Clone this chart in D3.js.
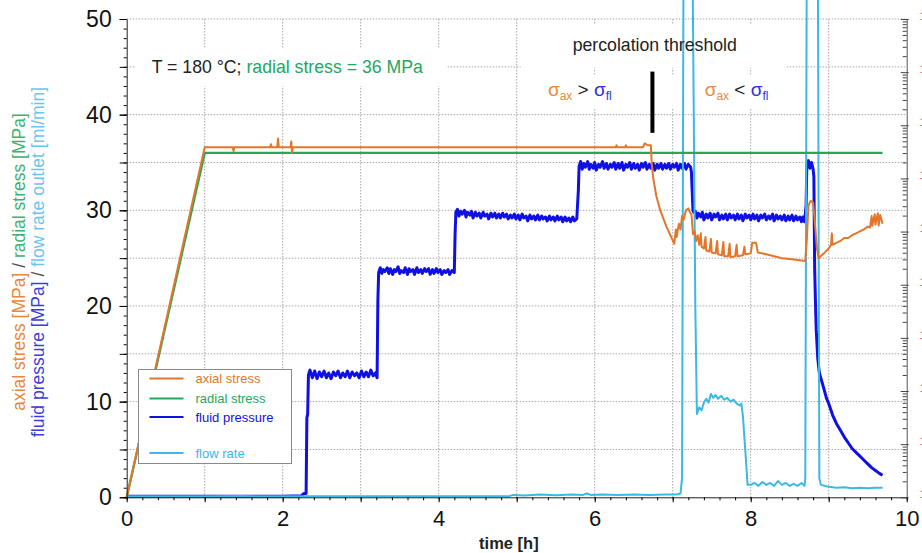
<!DOCTYPE html>
<html>
<head>
<meta charset="utf-8">
<script src="https://cdn.jsdelivr.net/npm/d3@7"></script>
<style>
  body { margin: 0; background: #fff; }
  svg { display: block; font-family: "Liberation Sans", Arial, sans-serif; }
</style>
</head>
<body>
<div id="graf"></div>
<script>
// Datos: [tiempo h, valor]
const radialStress = [[0, 0], [1.0, 36], [9.69, 36]]

const axialStress = [
  [0, 0], [1.0, 36.6], [1.36, 36.6], [1.37, 36.2], [1.38, 36.6], [1.84, 36.6], [1.85, 36.9], [1.86, 36.6],
  [1.93, 36.6], [1.94, 37.5], [1.95, 36.6], [2.10, 36.6], [2.11, 37.2], [2.12, 36.0], [2.13, 36.6],
  [6.27, 36.6], [6.28, 36.8], [6.29, 36.6], [6.39, 36.6], [6.40, 36.8], [6.41, 36.6], [6.62, 36.6],
  [6.64, 37.0], [6.68, 36.8], [6.72, 36.8], [6.73, 35.0], [6.75, 33.4], [6.79, 31.5], [6.84, 30.0],
  [6.92, 28.3], [7.02, 26.5], [7.04, 28.0], [7.05, 27.2], [7.08, 28.6], [7.10, 28.0], [7.12, 29.4],
  [7.14, 29.0], [7.17, 30.0], [7.20, 30.2], [7.22, 29.8], [7.24, 29.6], [7.26, 27.5], [7.28, 27.8],
  [7.30, 26.8], [7.32, 27.4], [7.34, 26.4], [7.36, 27.6], [7.37, 26.2], [7.40, 26.0], [7.42, 27.2],
  [7.43, 25.8], [7.47, 25.7], [7.49, 27.0], [7.50, 25.6], [7.55, 25.5], [7.57, 26.8], [7.58, 25.4],
  [7.63, 25.3], [7.65, 26.7], [7.66, 25.2], [7.71, 25.2], [7.73, 26.5], [7.74, 25.1], [7.80, 25.2],
  [7.82, 26.4], [7.83, 25.2], [7.90, 25.3], [7.92, 26.2], [7.93, 25.4], [8.00, 25.5], [8.02, 26.6],
  [8.07, 26.6], [8.09, 25.6], [8.20, 25.4], [8.30, 25.2], [8.40, 25.0], [8.50, 24.9], [8.60, 24.8],
  [8.70, 24.7], [8.72, 27.0], [8.74, 30.5], [8.77, 31.0], [8.80, 30.8], [8.82, 29.0], [8.85, 26.0],
  [8.87, 25.0], [8.95, 25.6], [9.00, 26.0], [9.03, 26.4], [9.04, 27.6], [9.05, 26.4], [9.10, 26.6],
  [9.15, 26.8], [9.20, 27.1], [9.25, 27.1], [9.30, 27.4], [9.35, 27.6], [9.40, 27.8], [9.45, 28.0],
  [9.50, 28.3], [9.53, 28.2], [9.55, 29.4], [9.56, 28.4], [9.59, 29.6], [9.60, 28.5], [9.63, 29.7],
  [9.64, 28.4], [9.66, 29.5], [9.69, 28.6]
]

const fluidPressure = [
  [0, 0.1], [2.0, 0.1], [2.24, 0.15], [2.27, 0.4], [2.30, 0.4], [2.31, 8.3], [2.32, 8.7], [2.33, 12.8],
  [2.35, 13.3], [2.38, 12.5], [2.41, 13.2], [2.44, 12.4], [2.47, 13.1], [2.50, 12.6], [2.53, 13.2],
  [2.56, 12.5], [2.59, 13.0], [2.62, 12.4], [2.65, 13.1], [2.68, 12.7], [2.71, 13.2], [2.74, 12.5],
  [2.77, 13.0], [2.80, 12.6], [2.83, 13.2], [2.86, 12.5], [2.89, 13.1], [2.92, 12.7], [2.95, 13.0],
  [2.98, 12.5], [3.01, 13.2], [3.04, 12.6], [3.07, 13.1], [3.10, 12.6], [3.13, 13.3], [3.16, 12.7],
  [3.19, 13.0], [3.21, 12.5], [3.22, 20.5], [3.23, 23.5],
  [3.25, 24.0], [3.27, 23.4], [3.29, 23.8], [3.31, 23.6], [3.34, 24.0], [3.36, 23.4], [3.38, 23.9],
  [3.41, 23.3], [3.43, 23.8], [3.45, 23.6], [3.48, 24.1], [3.50, 23.4], [3.52, 23.7], [3.55, 23.5],
  [3.57, 24.0], [3.60, 23.3], [3.62, 23.9], [3.64, 23.6], [3.67, 23.8], [3.69, 23.3], [3.72, 24.0],
  [3.74, 23.5], [3.77, 23.8], [3.79, 23.4], [3.82, 23.9], [3.84, 23.6], [3.87, 23.9], [3.89, 23.3],
  [3.92, 23.8], [3.94, 23.4], [3.97, 23.9], [3.99, 23.5], [4.02, 23.8], [4.04, 23.3], [4.07, 23.7],
  [4.09, 23.5], [4.12, 23.8], [4.14, 23.3], [4.17, 23.7], [4.20, 23.5], [4.21, 27.5], [4.22, 29.8],
  [4.24, 30.1], [4.26, 29.4], [4.28, 29.9], [4.30, 29.6], [4.33, 30.0], [4.35, 29.3], [4.37, 29.8],
  [4.40, 29.5], [4.42, 29.9], [4.44, 29.2], [4.47, 29.8], [4.49, 29.4], [4.52, 29.7], [4.54, 29.2],
  [4.57, 29.8], [4.59, 29.4], [4.62, 29.6], [4.64, 29.1], [4.67, 29.7], [4.69, 29.3], [4.72, 29.7],
  [4.74, 29.2], [4.77, 29.6], [4.79, 29.2], [4.82, 29.7], [4.84, 29.3], [4.87, 29.6], [4.89, 29.1],
  [4.92, 29.5], [4.94, 29.2], [4.97, 29.6], [4.99, 29.1], [5.02, 29.5], [5.04, 29.0], [5.07, 29.6],
  [5.09, 29.2], [5.12, 29.4], [5.14, 28.9], [5.17, 29.5], [5.19, 29.1], [5.22, 29.4], [5.24, 29.0],
  [5.27, 29.5], [5.29, 29.0], [5.32, 29.4], [5.34, 29.1], [5.37, 29.3], [5.39, 28.9], [5.42, 29.4],
  [5.44, 29.0], [5.47, 29.3], [5.49, 28.9], [5.52, 29.4], [5.54, 29.0], [5.57, 29.3], [5.59, 28.8],
  [5.62, 29.3], [5.64, 28.9], [5.67, 29.2], [5.69, 28.8], [5.72, 29.3], [5.74, 28.9], [5.77, 29.1],
  [5.79, 32.0], [5.80, 34.6],
  [5.82, 35.1], [5.84, 34.3], [5.86, 34.9], [5.88, 34.5], [5.91, 35.1], [5.93, 34.3], [5.95, 34.8],
  [5.98, 34.4], [6.00, 35.0], [6.02, 34.2], [6.05, 34.8], [6.07, 34.5], [6.10, 35.1], [6.12, 34.4],
  [6.15, 34.9], [6.17, 34.3], [6.20, 34.8], [6.22, 34.5], [6.25, 35.0], [6.27, 34.3], [6.30, 34.9],
  [6.32, 34.4], [6.35, 35.0], [6.37, 34.2], [6.40, 34.8], [6.42, 34.5], [6.45, 35.0], [6.47, 34.3],
  [6.50, 34.9], [6.52, 34.4], [6.55, 34.8], [6.57, 34.2], [6.60, 34.9], [6.62, 34.5], [6.65, 35.0],
  [6.67, 34.3], [6.70, 34.8], [6.72, 34.4], [6.75, 34.9], [6.77, 34.2], [6.80, 34.8], [6.82, 34.4],
  [6.85, 34.9], [6.87, 34.3], [6.90, 34.8], [6.92, 34.4], [6.95, 34.9], [6.97, 34.3], [7.00, 34.8],
  [7.02, 34.5], [7.05, 34.9], [7.07, 34.2], [7.10, 34.8], [7.12, 34.4], [7.15, 34.9], [7.17, 34.3],
  [7.20, 34.8], [7.23, 34.5], [7.24, 34.0], [7.26, 30.0], [7.27, 29.8],
  [7.29, 29.9], [7.31, 29.2], [7.33, 29.7], [7.36, 29.3], [7.38, 29.8], [7.40, 29.0], [7.43, 29.6],
  [7.45, 29.2], [7.48, 29.7], [7.50, 29.0], [7.53, 29.6], [7.55, 29.3], [7.58, 29.7], [7.60, 29.0],
  [7.63, 29.5], [7.65, 29.1], [7.68, 29.6], [7.70, 29.0], [7.73, 29.6], [7.75, 29.2], [7.78, 29.5],
  [7.80, 29.0], [7.83, 29.6], [7.85, 29.1], [7.88, 29.5], [7.90, 28.9], [7.93, 29.6], [7.95, 29.2],
  [7.98, 29.5], [8.00, 29.0], [8.03, 29.6], [8.05, 29.1], [8.08, 29.5], [8.10, 28.9], [8.13, 29.5],
  [8.15, 29.2], [8.18, 29.6], [8.20, 29.0], [8.23, 29.4], [8.25, 29.1], [8.28, 29.6], [8.30, 28.9],
  [8.33, 29.5], [8.35, 29.1], [8.38, 29.4], [8.40, 29.0], [8.43, 29.5], [8.45, 28.9], [8.48, 29.4],
  [8.50, 29.0], [8.53, 29.5], [8.55, 28.9], [8.58, 29.4], [8.60, 29.0], [8.63, 29.3], [8.65, 28.8],
  [8.67, 29.3], [8.69, 28.8],
  [8.71, 30.5], [8.72, 34.8], [8.74, 35.2], [8.76, 34.4], [8.78, 35.0], [8.80, 34.3], [8.81, 33.5],
  [8.82, 24.0], [8.83, 20.5], [8.84, 17.5], [8.86, 14.5], [8.88, 13.0], [8.93, 11.6], [8.97, 10.4],
  [9.00, 9.8], [9.05, 8.6], [9.10, 7.7], [9.15, 7.0], [9.20, 6.3], [9.25, 5.7], [9.30, 5.1],
  [9.35, 4.7], [9.40, 4.3], [9.45, 3.9], [9.50, 3.5], [9.55, 3.1], [9.60, 2.8], [9.65, 2.5], [9.69, 2.3]
]

const flowRate = [
  [0, 0.1], [0.5, 0.12], [1.0, 0.1], [1.5, 0.13], [2.0, 0.1], [2.5, 0.12], [3.0, 0.1], [3.5, 0.12],
  [4.0, 0.1], [4.5, 0.12], [4.9, 0.1], [4.95, 0.25], [5.1, 0.2], [5.3, 0.28], [5.5, 0.22], [5.7, 0.3],
  [5.85, 0.25], [5.9, 0.4], [5.95, 0.25], [6.1, 0.3], [6.3, 0.25], [6.5, 0.3], [6.7, 0.25], [6.9, 0.3],
  [7.05, 0.3], [7.10, 0.4], [7.12, 2], [7.14, 60], [7.25, 60], [7.29, 20], [7.31, 8.7], [7.34, 9.4],
  [7.37, 9.1], [7.40, 9.9], [7.43, 10.3], [7.46, 9.9], [7.49, 10.8], [7.52, 10.4], [7.55, 10.7],
  [7.58, 10.3], [7.62, 10.6], [7.66, 10.2], [7.70, 10.4], [7.74, 10.0], [7.78, 10.2], [7.82, 9.8],
  [7.86, 9.6], [7.88, 9.8], [7.90, 8.5], [7.93, 5.0], [7.96, 1.3], [8.0, 1.3], [8.05, 1.5], [8.1, 1.2],
  [8.15, 1.6], [8.2, 1.3], [8.25, 1.5], [8.3, 1.2], [8.35, 1.7], [8.4, 1.3], [8.45, 1.5], [8.5, 1.2],
  [8.55, 1.4], [8.6, 1.2], [8.65, 1.5], [8.69, 1.2], [8.70, 2], [8.72, 60], [8.86, 60], [8.88, 2],
  [8.90, 1.3], [9.0, 1.1], [9.1, 1.0], [9.2, 1.05], [9.3, 0.95], [9.4, 1.0], [9.5, 0.95], [9.6, 1.0],
  [9.69, 1.0]
]

// Etiquetas de ejes
const xTickLabels = [0, 2, 4, 6, 8, 10]
const yTickLabels = [0, 10, 20, 30, 40, 50]
const legendLabels = ['axial stress', 'radial stress', 'fluid pressure', '', 'flow rate']

// Colores
const cAxial = '#e2772b'
const cRadial = '#22a95c'
const cFluid = '#1010e4'
const cFlow = '#3cb8e4'

const width = 922
const height = 553

const svg = d3.select('#graf')
  .append('svg')
  .attr('width', width)
  .attr('height', height)

svg.append('rect').attr('width', width).attr('height', height).attr('fill', 'white')

// Escaladores
const x = d3.scaleLinear().domain([0, 10]).range([126.7, 906.7])
const y = d3.scaleLinear().domain([0, 50]).range([497.3, 19])
const yRight = d3.scaleLog().domain([1e-4, 1e5]).range([497.3, 19])

// Rejilla punteada
const grid = svg.append('g')
grid.selectAll('.gx')
  .data(x.ticks(10).filter(d => d > 0 && d < 10))
  .enter().append('line')
  .attr('x1', d => x(d)).attr('x2', d => x(d))
  .attr('y1', y(50)).attr('y2', y(0))
grid.selectAll('.gy')
  .data(y.ticks(10).filter(d => d > 0))
  .enter().append('line')
  .attr('x1', x(0)).attr('x2', x(10))
  .attr('y1', d => y(d)).attr('y2', d => y(d))
grid.selectAll('line')
  .attr('stroke', '#a8a8a8')
  .attr('stroke-width', 1)
  .attr('stroke-dasharray', '1.5,1.5')

// Fondos blancos de anotaciones
svg.append('rect')
  .attr('x', x(0.11)).attr('y', y(47.0))
  .attr('width', x(4.1) - x(0.11)).attr('height', y(43.0) - y(47.0))
  .attr('fill', 'white')
svg.append('rect')
  .attr('x', x(5.05)).attr('y', y(49.4))
  .attr('width', x(8.46) - x(5.05)).attr('height', y(44.9) - y(49.4))
  .attr('fill', 'white')
svg.append('rect')
  .attr('x', x(5.2)).attr('y', y(44.2))
  .attr('width', x(8.46) - x(5.2)).attr('height', y(40.6) - y(44.2))
  .attr('fill', 'white')

// Lineas
const line = d3.line().x(d => x(d[0])).y(d => y(d[1]))
const series = [
  { data: fluidPressure, color: cFluid, w: 3 },
  { data: flowRate, color: cFlow, w: 2 },
  { data: radialStress, color: cRadial, w: 2.4 },
  { data: axialStress, color: cAxial, w: 2 }
]
svg.selectAll('.serie')
  .data(series)
  .enter().append('path')
  .attr('class', 'serie')
  .attr('fill', 'none')
  .attr('stroke', d => d.color)
  .attr('stroke-width', d => d.w)
  .attr('stroke-linejoin', 'round')
  .attr('d', d => line(d.data))

// Eje Y izquierdo
const yMinor = svg.append('g')
  .attr('transform', `translate(${x(0)},0)`)
  .call(d3.axisLeft(y).tickValues(y.ticks(50)).tickSize(3).tickSizeOuter(0).tickFormat(''))
yMinor.select('.domain').attr('stroke', '#222')
const yMajor = svg.append('g')
  .attr('transform', `translate(${x(0)},0)`)
  .call(d3.axisLeft(y).tickValues(y.ticks(10)).tickSize(7).tickSizeOuter(0).tickFormat(''))
yMajor.select('.domain').remove()
const yLabels = svg.append('g')
  .attr('transform', `translate(${x(0)},0)`)
  .call(d3.axisLeft(y).tickValues(yTickLabels).tickSize(7).tickPadding(8).tickSizeOuter(0))
yLabels.select('.domain').remove()
yLabels.selectAll('text').attr('font-size', 23).attr('fill', '#111')
  .attr('font-family', '"Liberation Sans", Arial, sans-serif')

// Eje X
const xMinor = svg.append('g')
  .attr('transform', `translate(0,${y(0)})`)
  .call(d3.axisBottom(x).tickValues(x.ticks(50)).tickSize(3).tickSizeOuter(0).tickFormat(''))
xMinor.select('.domain').attr('stroke', '#222')
const xLabels = svg.append('g')
  .attr('transform', `translate(0,${y(0)})`)
  .call(d3.axisBottom(x).tickValues(x.ticks(10)).tickSize(5).tickPadding(8).tickSizeOuter(0)
    .tickFormat(d => xTickLabels.includes(d) ? d : ''))
xLabels.select('.domain').remove()
xLabels.selectAll('text').attr('font-size', 22).attr('fill', '#111')
  .attr('font-family', '"Liberation Sans", Arial, sans-serif')

// Eje derecho logaritmico (recortado por el borde de la figura)
const rightTicks = yRight.ticks()
const isDecade = v => Math.abs(Math.log10(v) - Math.round(Math.log10(v))) < 1e-9
const yR = svg.append('g')
  .attr('transform', `translate(${x(10)},0)`)
  .call(d3.axisLeft(yRight).tickValues(rightTicks).tickSize(4).tickSizeOuter(0).tickFormat(''))
yR.select('.domain').attr('stroke', '#555')
yR.selectAll('.tick line')
  .attr('stroke', '#444')
  .attr('x1', d => isDecade(d) ? 2 : 0)
  .attr('x2', d => isDecade(d) ? -6 : -4)
svg.selectAll('.rlab')
  .data(rightTicks.filter(isDecade))
  .enter().append('text')
  .attr('x', x(10) + 13)
  .attr('y', d => yRight(d) - 3)
  .attr('dy', '0.35em')
  .attr('font-size', 11)
  .attr('fill', '#e83a3a')
  .text('1E')

// Titulo eje X
svg.append('text')
  .attr('x', x(4.9)).attr('y', 549)
  .attr('text-anchor', 'middle')
  .attr('font-size', 16.5).attr('font-weight', 'bold').attr('fill', '#222')
  .text('time [h]')

// Titulo eje Y (dos lineas)
const yt1 = svg.append('text')
  .attr('transform', 'translate(25,262) rotate(-90)')
  .attr('text-anchor', 'middle').attr('font-size', 17.5)
yt1.append('tspan').attr('fill', '#e8873c').text('axial stress [MPa]')
yt1.append('tspan').attr('fill', '#555').text(' / ')
yt1.append('tspan').attr('fill', '#3cb371').text('radial stress [MPa]')

const yt2 = svg.append('text')
  .attr('transform', 'translate(44,262) rotate(-90)')
  .attr('text-anchor', 'middle').attr('font-size', 17.5)
yt2.append('tspan').attr('fill', '#3c3cdc').text('fluid pressure [MPa]')
yt2.append('tspan').attr('fill', '#555').text(' / ')
yt2.append('tspan').attr('fill', '#6cc5ee').text('flow rate outlet [ml/min]')

// Anotaciones
const tLabel = svg.append('text')
  .attr('x', x(0.32)).attr('y', y(44.4))
  .attr('font-size', 17.7)
tLabel.append('tspan').attr('fill', '#222').text('T = 180 °C; ')
tLabel.append('tspan').attr('fill', '#22a85e').text('radial stress = 36 MPa')

svg.append('text')
  .attr('x', x(6.77)).attr('y', y(46.7))
  .attr('text-anchor', 'middle')
  .attr('font-size', 17.7).attr('fill', '#222')
  .text('percolation threshold')

svg.append('rect')
  .attr('x', x(6.74) - 2).attr('y', y(44.5))
  .attr('width', 4).attr('height', y(38.1) - y(44.5))
  .attr('fill', '#000')

const sigmaLabel = (t, sign) => {
  const txt = svg.append('text')
    .attr('x', x(t)).attr('y', y(42.0))
    .attr('font-size', 19)
  txt.append('tspan').attr('fill', '#e88a40').text('σ')
  txt.append('tspan').attr('fill', '#e88a40').attr('font-size', 12).attr('dy', 4).text('ax')
  txt.append('tspan').attr('fill', '#222').attr('dy', -4).text(` ${sign} `)
  txt.append('tspan').attr('fill', '#3030dd').text('σ')
  txt.append('tspan').attr('fill', '#3030dd').attr('font-size', 12).attr('dy', 4).text('fl')
}
sigmaLabel(5.4, '>')
sigmaLabel(7.41, '<')

// Leyenda
const legend = svg.append('g').attr('transform', 'translate(138.5,369.5)')
legend.append('rect')
  .attr('width', 153).attr('height', 94)
  .attr('fill', 'white').attr('stroke', '#8a8a8a')
const legendColors = [cAxial, cRadial, cFluid, null, cFlow]
const legendRows = [9, 29, 47.5, 65, 83.5]
legendLabels.forEach((lab, i) => {
  if (!lab) return
  legend.append('line')
    .attr('x1', 11).attr('x2', 45)
    .attr('y1', legendRows[i]).attr('y2', legendRows[i])
    .attr('stroke', legendColors[i]).attr('stroke-width', 2)
  legend.append('text')
    .attr('x', 57).attr('y', legendRows[i]).attr('dy', '0.35em')
    .attr('font-size', 13).attr('fill', legendColors[i])
    .text(lab)
})
</script>
</body>
</html>
